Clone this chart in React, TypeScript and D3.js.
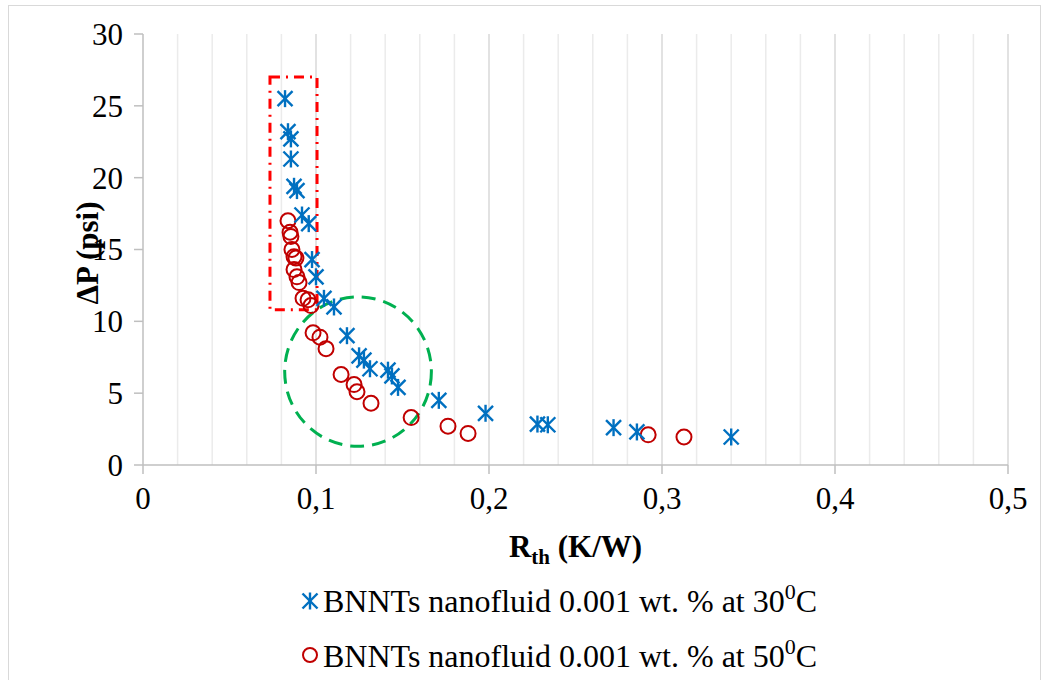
import React from "react";
import * as d3 from "d3";

// BNNTs nanofluid 0.001 wt.% at 30 C (star markers)
const rth30 = [0.0821, 0.0838, 0.0855, 0.0855, 0.0873, 0.089, 0.0919, 0.0958, 0.0977, 0.1, 0.1046, 0.1104, 0.1179, 0.1249, 0.1277, 0.1312, 0.1416, 0.1439, 0.1474, 0.171, 0.198, 0.228, 0.234, 0.272, 0.2855, 0.34];
const dp30 = [25.5, 23.2, 22.7, 21.3, 19.4, 19.1, 17.4, 16.8, 14.3, 13.1, 11.6, 11.0, 9.0, 7.6, 7.3, 6.7, 6.6, 6.2, 5.4, 4.5, 3.6, 2.85, 2.8, 2.6, 2.3, 1.95];

// BNNTs nanofluid 0.001 wt.% at 50 C (circle markers)
const rth50 = [0.0838, 0.085, 0.0855, 0.0861, 0.0873, 0.0884, 0.0873, 0.089, 0.0902, 0.0925, 0.0954, 0.0971, 0.0983, 0.1023, 0.1058, 0.1145, 0.122, 0.1237, 0.1318, 0.155, 0.1763, 0.1879, 0.292, 0.3127];
const dp50 = [17.0, 16.2, 15.9, 15.0, 14.5, 14.4, 13.6, 13.1, 12.7, 11.6, 11.5, 11.1, 9.2, 8.9, 8.1, 6.3, 5.6, 5.1, 4.3, 3.3, 2.7, 2.2, 2.1, 1.95];

const xTicks = [0, 0.1, 0.2, 0.3, 0.4, 0.5];
const yTicks = [0, 5, 10, 15, 20, 25, 30];
const legendLabels = ["BNNTs nanofluid 0.001 wt. % at 30", "BNNTs nanofluid 0.001 wt. % at 50"];

// annotation shapes, in data units
const boxX = [0.0734, 0.1006];
const boxY = [10.8, 27.0];
const ring = { cx: 0.1243, cy: 6.5, rx: 0.0424, ry: 5.2 };

const blue = "#0070C0";
const red = "#C00000";
const font = "'Liberation Serif', Tinos, 'Times New Roman', Times, serif";

function Star({ x, y }: { x: number; y: number }) {
  const r = 8.5;
  const d = 7.5;
  return (
    <g stroke={blue} strokeWidth={2.4}>
      <line x1={x} y1={y - r} x2={x} y2={y + r} />
      <line x1={x - d} y1={y - d} x2={x + d} y2={y + d} />
      <line x1={x - d} y1={y + d} x2={x + d} y2={y - d} />
    </g>
  );
}

export default function App() {
  const x = d3.scaleLinear().domain([0, 0.5]).range([143, 1008]);
  const y = d3.scaleLinear().domain([0, 30]).range([465, 34]);
  const minor = d3.range(1, 26).map((i) => i * 0.02);
  const fmt = (v: number) => String(v).replace(".", ",");

  return (
    <svg width={1046} height={680} style={{ position: "absolute", left: 0, top: 0, fontFamily: font }}>
      <rect x={8.5} y={5.5} width={1032} height={680} fill="#fff" stroke="#D9D9D9" />
      {/* vertical gridlines */}
      {minor.map((v, i) => (
        <line key={i} x1={x(v)} x2={x(v)} y1={y(30)} y2={y(0)}
          stroke={(i + 1) % 5 === 0 ? "#D9D9D9" : "#EBEBEB"} strokeWidth={1.5} />
      ))}
      {/* axes */}
      <line x1={x(0)} x2={x(0)} y1={y(30)} y2={y(0)} stroke="#BFBFBF" strokeWidth={1.5} />
      <line x1={x(0)} x2={x(0.5)} y1={y(0)} y2={y(0)} stroke="#BFBFBF" strokeWidth={1.5} />
      {yTicks.map((t) => (
        <g key={t}>
          <line x1={x(0) - 9} x2={x(0)} y1={y(t)} y2={y(t)} stroke="#BFBFBF" strokeWidth={1.5} />
          <text x={123} y={y(t)} dy="0.35em" textAnchor="end" fontSize={31}>{t}</text>
        </g>
      ))}
      {xTicks.map((t) => (
        <g key={t}>
          <line x1={x(t)} x2={x(t)} y1={y(0)} y2={y(0) + 9} stroke="#BFBFBF" strokeWidth={1.5} />
          <text x={x(t)} y={509} textAnchor="middle" fontSize={31}>{fmt(t)}</text>
        </g>
      ))}
      {/* axis titles */}
      <text transform={`translate(98,253) rotate(-90)`} textAnchor="middle" fontSize={31} fontWeight="bold">
        ΔP (psi)
      </text>
      <text x={(x(0) + x(0.5)) / 2} y={557} textAnchor="middle" fontSize={31} fontWeight="bold">
        R<tspan fontSize={21} dy={7}>th</tspan><tspan dy={-7}> (K/W)</tspan>
      </text>
      {/* annotations */}
      <rect x={x(boxX[0])} y={y(boxY[1])} width={x(boxX[1]) - x(boxX[0])} height={y(boxY[0]) - y(boxY[1])}
        fill="none" stroke="#FF0000" strokeWidth={3} strokeDasharray="10 6 2 6" />
      <ellipse cx={x(ring.cx)} cy={y(ring.cy)} rx={x(ring.rx) - x(0)} ry={y(0) - y(ring.ry)}
        fill="none" stroke="#00B050" strokeWidth={3} strokeDasharray="14 8" />
      {/* series */}
      {rth50.map((v, i) => (
        <circle key={i} cx={x(v)} cy={y(dp50[i])} r={7.5} fill="none" stroke={red} strokeWidth={2} />
      ))}
      {rth30.map((v, i) => (
        <Star key={i} x={x(v)} y={y(dp30[i])} />
      ))}
      {/* legend */}
      <Star x={310} y={601} />
      <text x={323} y={612} fontSize={32}>
        {legendLabels[0]}<tspan fontSize={22} dy={-13}>0</tspan><tspan dy={13}>C</tspan>
      </text>
      <circle cx={310} cy={655} r={7} fill="none" stroke={red} strokeWidth={2} />
      <text x={323} y={667} fontSize={32}>
        {legendLabels[1]}<tspan fontSize={22} dy={-13}>0</tspan><tspan dy={13}>C</tspan>
      </text>
    </svg>
  );
}
